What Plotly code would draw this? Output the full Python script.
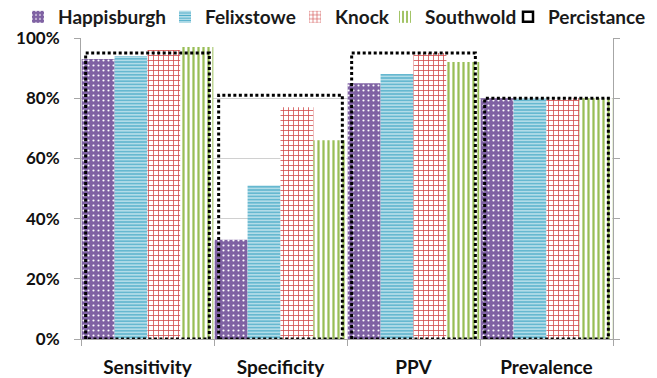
import plotly.graph_objects as go

categories = ["Sensitivity", "Specificity", "PPV", "Prevalence"]
happisburgh = [0.93, 0.33, 0.85, 0.80]
felixstowe = [0.94, 0.51, 0.88, 0.80]
knock = [0.96, 0.77, 0.95, 0.80]
southwold = [0.97, 0.66, 0.92, 0.80]
persistance = [0.95, 0.81, 0.95, 0.80]

FONT = "Lato"
W, H = 657, 378
fig = go.Figure()

styles = [
    ("Happisburgh", happisburgh, dict(shape=".", bgcolor="#7f62a3", fgcolor="#ffffff", size=5, solidity=0.15)),
    ("Felixstowe", felixstowe, dict(shape="-", bgcolor="#b2dce8", fgcolor="#45a9c6", size=3.2, solidity=0.35)),
    ("Knock", knock, dict(shape="+", bgcolor="#ffffff", fgcolor="#d24f4f", size=5, solidity=0.3)),
    ("Southwold", southwold, dict(shape="|", bgcolor="#ffffff", fgcolor="#99be56", size=5, solidity=0.45)),
]
legend_ids = ["legend", "legend2", "legend3", "legend4", "legend5"]
for (name, vals, pat), lg in zip(styles, legend_ids):
    fig.add_trace(go.Bar(
        x=categories, y=vals, name=name, legend=lg,
        marker=dict(color=pat["fgcolor"], pattern=dict(fillmode="replace", **pat), line=dict(width=0)),
        xaxis="x", yaxis="y",
    ))

hw = 0.465
px, py = [], []
for i, v in enumerate(persistance):
    px += [i - hw, i - hw, i + hw, i + hw, i - hw, None]
    py += [0, v, v, 0, 0, None]
fig.add_trace(go.Scatter(
    x=px, y=py, name="Percistance", mode="lines", legendgroup="perc", showlegend=False,
    line=dict(color="#000000", width=3, dash="3px,2.5px"),
    xaxis="x2", yaxis="y2", hoverinfo="skip",
))
# legend entry for the dotted outline (square icon)
fig.add_trace(go.Scatter(
    x=[None], y=[None], name="Percistance", mode="markers", legendgroup="perc", legend="legend5",
    marker=dict(symbol="square-open", size=10, color="#000000", line=dict(width=2.5, color="#000000")),
    xaxis="x2", yaxis="y2", hoverinfo="skip",
))

# legend text start positions (px)
legend_text_x = [58, 205, 335, 425, 548]
legends = {}
for lg, tx in zip(legend_ids, legend_text_x):
    legends[lg] = dict(orientation="h", xref="container", yref="container",
                       x=(tx - 40) / W, xanchor="left", y=1 - 17 / H, yanchor="middle",
                       font=dict(family=FONT, size=19, color="#1a1a1a", weight="bold"),
                       itemwidth=30, bgcolor="rgba(0,0,0,0)", borderwidth=0)

fig.update_layout(
    width=W, height=H,
    margin=dict(l=81, r=44, t=38, b=39, autoexpand=False),
    paper_bgcolor="white", plot_bgcolor="white",
    barmode="group", bargap=0.01, bargroupgap=0,
    showlegend=True,
    **legends,
    xaxis=dict(type="category", range=[-0.5, 3.5], showline=True, linecolor="#a6a6a6", linewidth=1,
               ticks="outside", tickson="boundaries", ticklen=6, tickcolor="#a6a6a6",
               tickfont=dict(family=FONT, size=19, color="#111111", weight="bold"),
               ticklabelstandoff=11, showgrid=False, zeroline=False, fixedrange=True),
    xaxis2=dict(overlaying="x", range=[-0.5, 3.5], visible=False, anchor="y"),
    yaxis=dict(range=[0, 1], dtick=0.2, tickformat=".0%", showline=True, linecolor="#a6a6a6",
               ticks="outside", ticklen=6, tickcolor="#a6a6a6", showgrid=True, gridcolor="#d0d0d0",
               gridwidth=1, zeroline=False,
               tickfont=dict(family=FONT, size=17, color="#111111", weight="bold"),
               ticklabelstandoff=11),
    yaxis2=dict(overlaying="y", side="right", range=[0, 1], dtick=0.2,
                showline=True, linecolor="#a6a6a6", ticks="outside", ticklen=6, tickcolor="#a6a6a6",
                showgrid=False, zeroline=False, anchor="x", showticklabels=False),
)
fig.write_html("out.html", config={"displayModeBar": False},
               post_script="document.body.style.margin='0';document.body.style.overflow='hidden';")
